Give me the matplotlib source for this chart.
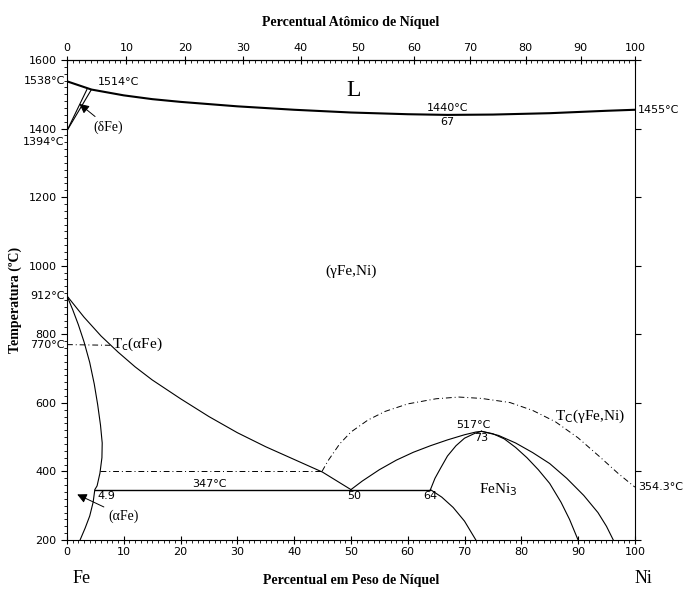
import matplotlib.pyplot as plt
import numpy as np

# === DATA (weight % Ni, temperature in C) ===
liquidus_x = [0, 4.3, 10, 15, 20, 30, 40, 50, 60, 67, 75, 85, 95, 100]
liquidus_t = [1538, 1514, 1497, 1486, 1478, 1465, 1455, 1447, 1442, 1440, 1441, 1445, 1452, 1455]

delta_gamma1_x = [0, 3.5]
delta_gamma1_t = [1394, 1514]
delta_gamma2_x = [0, 4.3]
delta_gamma2_t = [1394, 1514]

gamma_bound_x = [0, 3, 6, 9, 12, 15, 20, 25, 30, 35, 40, 45, 50]
gamma_bound_t = [912, 850, 795, 748, 705, 667, 612, 560, 513, 472, 435, 398, 347]

alpha_bound_x = [0, 1, 2, 3, 4, 4.8, 5.4, 5.9, 6.2, 6.15, 5.8, 5.3, 4.9, 4.6, 4.0, 3.2, 2.3]
alpha_bound_t = [912, 872, 828, 778, 718, 655, 595, 535, 483, 440, 395, 358, 347, 310, 270, 235, 200]

tc_alpha_x = [0, 7.6]
tc_alpha_t = [770, 768]

tc_gamma_x = [44.9, 46, 48, 50, 53, 56, 60, 65, 69, 73, 78, 82, 86, 90, 94, 97, 100]
tc_gamma_t = [400, 432, 480, 515, 550, 575, 597, 612, 617, 613, 601, 578, 545, 498, 440, 395, 354.3]

line400_x = [5.8, 44.9]
line400_t = [400, 400]

eutectoid_x = [4.9, 64]
eutectoid_t = [347, 347]

gamma_feni3_x = [50, 52, 55, 58, 61, 64, 67, 70, 72, 73]
gamma_feni3_t = [347, 372, 405, 433, 456, 475, 492, 507, 515, 517]

feni3_left_x = [64, 64.8, 65.8, 67, 68.5, 70, 71.8, 73]
feni3_left_t = [347, 380, 410, 445, 475, 497, 511, 517]

feni3_right_x = [73, 75, 77, 79, 81, 83, 85, 87, 88.5, 90]
feni3_right_t = [517, 510, 495, 470, 440, 405, 365, 310, 260, 200]

gamma_right_x = [73, 76, 79, 82, 85, 88, 91, 93.5, 95, 96.2]
gamma_right_t = [517, 505, 483, 455, 423, 380, 330, 280, 240, 200]

below64_x = [64, 66, 68, 70, 72]
below64_t = [347, 325, 295, 255, 200]

FE, NI = 55.845, 58.693


def wt_to_at(w):
    w = np.clip(np.asarray(w, dtype=float), 1e-9, 100 - 1e-9)
    n = w / NI
    return 100 * n / (n + (100 - w) / FE)


def at_to_wt(a):
    a = np.clip(np.asarray(a, dtype=float), 1e-9, 100 - 1e-9)
    m = a * NI
    return 100 * m / (m + (100 - a) * FE)


fig = plt.figure(figsize=(6.9, 6.06), dpi=100)
ax = fig.add_axes([0.0971, 0.1089, 0.823, 0.792])

thin = dict(color='black', lw=0.8)
dashdot = dict(color='black', lw=0.7, linestyle=(0, (6, 3, 1, 3)))
ax.plot(liquidus_x, liquidus_t, color='black', lw=1.5)
ax.plot(delta_gamma1_x, delta_gamma1_t, **thin)
ax.plot(delta_gamma2_x, delta_gamma2_t, **thin)
ax.plot(gamma_bound_x, gamma_bound_t, **thin)
ax.plot(alpha_bound_x, alpha_bound_t, **thin)
ax.plot(tc_alpha_x, tc_alpha_t, **dashdot)
ax.plot(tc_gamma_x, tc_gamma_t, **dashdot)
ax.plot(line400_x, line400_t, **dashdot)
ax.plot(eutectoid_x, eutectoid_t, color='black', lw=1.0)
ax.plot(gamma_feni3_x, gamma_feni3_t, **thin)
ax.plot(feni3_left_x, feni3_left_t, **thin)
ax.plot(feni3_right_x, feni3_right_t, **thin)
ax.plot(gamma_right_x, gamma_right_t, **thin)
ax.plot(below64_x, below64_t, **thin)

ax.set_xlim(0, 100)
ax.set_ylim(200, 1600)
ax.set_xticks(np.arange(0, 101, 10))
ax.set_xticks(np.arange(0, 101, 1), minor=True)
ax.set_yticks(np.arange(200, 1601, 200))
ax.set_yticks(np.arange(200, 1601, 20), minor=True)
ax.tick_params(axis='x', which='major', direction='inout', length=6, labelsize=8, pad=2)
ax.tick_params(axis='x', which='minor', direction='out', length=2.5)
ax.tick_params(axis='y', which='major', direction='out', length=4, labelsize=8, right=True)
ax.tick_params(axis='y', which='minor', direction='out', length=2)

top = ax.secondary_xaxis('top', functions=(wt_to_at, at_to_wt))
top.set_xticks(np.arange(0, 101, 10))
top.set_xticks(np.arange(0, 101, 1), minor=True)
top.tick_params(which='major', direction='inout', length=6, labelsize=8, pad=2)
top.tick_params(which='minor', direction='in', length=2.5)
top.set_xlabel('Percentual Atômico de Níquel', family='Liberation Serif',
               fontweight='bold', fontsize=10, labelpad=12)

ax.set_xlabel('Percentual em Peso de Níquel', family='Liberation Serif',
              fontweight='bold', fontsize=10, labelpad=12)
ax.set_ylabel('Temperatura (ºC)', family='Liberation Serif',
              fontweight='bold', fontsize=10)
ax.yaxis.set_label_coords(-0.079, 0.5)

small = dict(fontsize=8, family='DejaVu Sans')
serif = dict(family='Liberation Serif')
# outside labels
ax.text(-0.4, 1538, '1538°C', ha='right', va='center', clip_on=False, **small)
ax.text(-0.4, 1362, '1394°C', ha='right', va='center', clip_on=False, **small)
ax.text(-0.4, 912, '912°C', ha='right', va='center', clip_on=False, **small)
ax.text(-0.4, 770, '770°C', ha='right', va='center', clip_on=False, **small)
ax.text(100.5, 1455, '1455°C', ha='left', va='center', clip_on=False, **small)
ax.text(100.5, 354.3, '354.3°C', ha='left', va='center', clip_on=False, **small)
ax.text(2.5, 88, 'Fe', ha='center', va='center', fontsize=13, clip_on=False, **serif)
ax.text(101.5, 88, 'Ni', ha='center', va='center', fontsize=13, clip_on=False, **serif)

# inside labels
ax.text(5.5, 1520, '1514°C', ha='left', va='bottom', **small)
ax.text(67, 1446, '1440°C', ha='center', va='bottom', **small)
ax.text(67, 1434, '67', ha='center', va='top', **small)
ax.text(71.5, 520, '517°C', ha='center', va='bottom', **small)
ax.text(73, 512, '73', ha='center', va='top', **small)
ax.text(25, 350, '347°C', ha='center', va='bottom', **small)
ax.text(5.3, 343, '4.9', ha='left', va='top', **small)
ax.text(50.5, 343, '50', ha='center', va='top', **small)
ax.text(64, 343, '64', ha='center', va='top', **small)
ax.text(50.5, 1510, 'L', ha='center', va='center', fontsize=17, **serif)
ax.text(50, 985, '(γFe,Ni)', ha='center', va='center', fontsize=11, **serif)
ax.text(8, 770, r'T$_\mathrm{c}$(αFe)', ha='left', va='center', fontsize=11, **serif)
ax.text(86, 560, r'T$_\mathrm{C}$(γFe,Ni)', ha='left', va='center', fontsize=11, **serif)
ax.text(72.5, 348, r'FeNi$_\mathrm{3}$', ha='left', va='center', fontsize=11, **serif)

ax.annotate('(δFe)', xy=(2.2, 1472), xytext=(4.6, 1405), ha='left', va='center',
            fontsize=10, **serif,
            arrowprops=dict(arrowstyle='-|>', color='black', lw=0.7, mutation_scale=14,
                            shrinkA=1, shrinkB=0))
ax.annotate('(αFe)', xy=(1.8, 333), xytext=(7.2, 270), ha='left', va='center',
            fontsize=10, **serif,
            arrowprops=dict(arrowstyle='-|>', color='black', lw=0.7, mutation_scale=14,
                            shrinkA=1, shrinkB=0))

plt.savefig('out.png', dpi=100)
